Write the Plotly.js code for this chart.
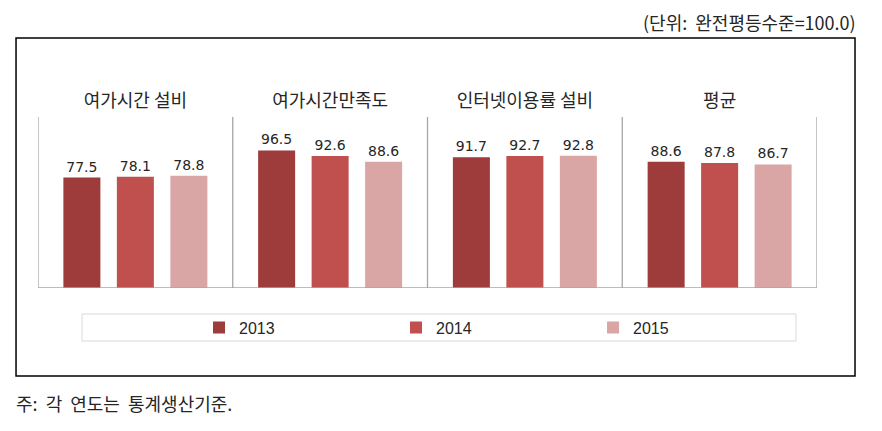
<!DOCTYPE html>
<html>
<head>
<meta charset="utf-8">
<script src="https://cdn.plot.ly/plotly-3.0.1.min.js"></script>
<style>html,body{margin:0;padding:0;background:#fff;}#chart{width:882px;height:431px;}</style>
</head>
<body>
<div id="chart"></div>
<script>
const categories = ["여가시간 설비", "여가시간만족도", "인터넷이용률 설비", "평균"];
const years = ["2013", "2014", "2015"];
const values2013 = [77.5, 96.5, 91.7, 88.6];
const values2014 = [78.1, 92.6, 92.7, 87.8];
const values2015 = [78.8, 88.6, 92.8, 86.7];
const unitText = "(단위:  완전평등수준=100.0)";
const noteText = "주:  각  연도는  통계생산기준.";

const seriesValues = [values2013, values2014, values2015];
const colors = ["#9E3B3B", "#C0504D", "#D9A6A5"];

const traces = years.map((yr, i) => ({
  type: "bar",
  name: yr,
  x: categories,
  y: seriesValues[i],
  marker: {color: colors[i]},
  text: seriesValues[i].map(v => v.toFixed(1)),
  textposition: "outside",
  cliponaxis: false,
  textfont: {family: "DejaVu Sans", size: 14, color: "#262626"},
  hoverinfo: "none"
}));

const n = categories.length;
const shapes = [];
for (let k = 0; k <= n; k++) {
  shapes.push({type: "line", xref: "x", yref: "y", x0: k - 0.5, x1: k - 0.5, y0: 0, y1: 120,
    line: {color: "#A6A6A6", width: 1.3}});
}
shapes.push({type: "line", xref: "x", yref: "y", x0: -0.5, x1: n - 0.5, y0: 0, y1: 0,
  line: {color: "#A6A6A6", width: 1.3}});
// outer frame
shapes.push({type: "rect", xref: "paper", yref: "paper", x0: -0.0282, x1: 1.0488, y0: -0.515, y1: 1.462,
  line: {color: "#000", width: 1.5}});
// legend frame
shapes.push({type: "rect", xref: "paper", yref: "paper", x0: 0.0565, x1: 0.973, y0: -0.31, y1: -0.152,
  line: {color: "#D9D9D9", width: 1}});

const layout = {
  width: 882, height: 431,
  margin: {l: 38, r: 65, t: 117, b: 143},
  paper_bgcolor: "#fff", plot_bgcolor: "#fff",
  barmode: "group", bargap: 0.176, bargroupgap: 0.308,
  showlegend: true,
  legend: {orientation: "h", x: 0.2067, xanchor: "left", y: -0.231, yanchor: "middle",
    entrywidth: 152, entrywidthmode: "pixels",
    font: {family: "Liberation Sans", size: 16, color: "#262626"}, bgcolor: "rgba(0,0,0,0)"},
  xaxis: {side: "top", showline: false, showgrid: false, zeroline: false, ticks: "",
    ticklabelstandoff: 5, range: [-0.5, n - 0.5],
    tickfont: {family: "Noto Sans CJK KR", size: 18, color: "#262626"}},
  yaxis: {range: [0, 120], showticklabels: false, showgrid: false, zeroline: false, showline: false},
  shapes: shapes,
  annotations: [
    {text: unitText, xref: "paper", yref: "paper", x: 1.0526, y: 1.555, xanchor: "right", yanchor: "middle",
      showarrow: false, font: {family: "Noto Sans CJK KR", size: 18, color: "#262626"}},
    {text: noteText, xref: "paper", yref: "paper", x: -0.031, y: -0.673, xanchor: "left", yanchor: "middle",
      showarrow: false, font: {family: "Noto Sans CJK KR", size: 18, color: "#262626"}}
  ]
};

Plotly.newPlot("chart", traces, layout, {displayModeBar: false, staticPlot: true});
</script>
</body>
</html>
